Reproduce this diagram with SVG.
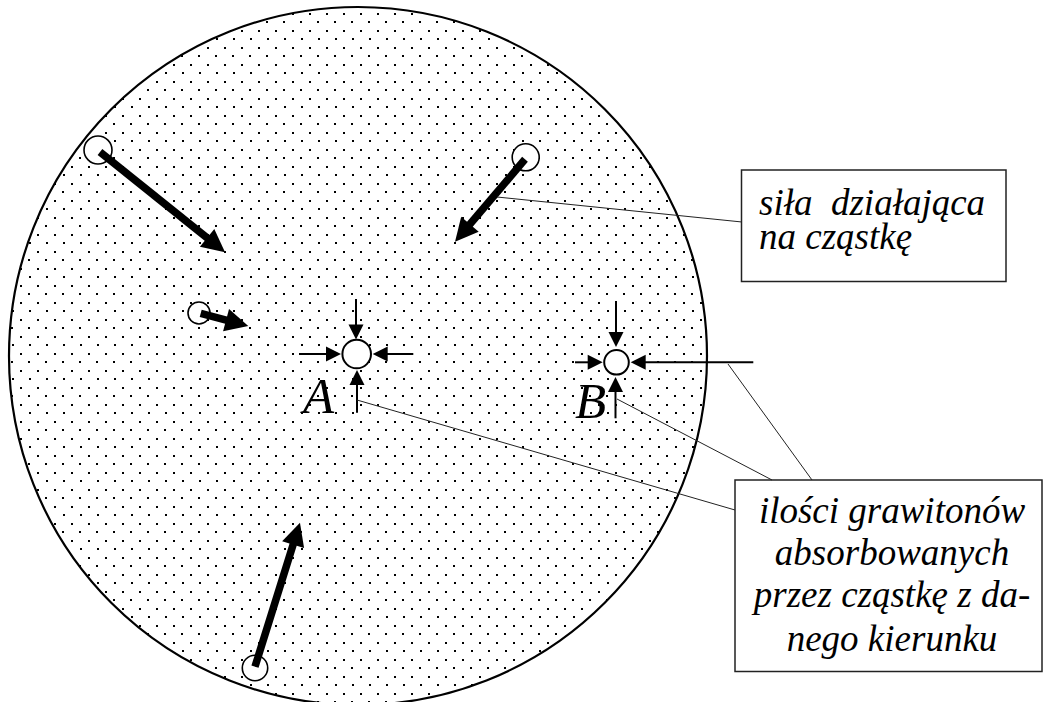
<svg xmlns="http://www.w3.org/2000/svg" width="1043" height="702" viewBox="0 0 1043 702">
<style>
.big{fill:url(#dots);stroke:#000;stroke-width:2.2}
.part{fill:#fff;stroke:#000;stroke-width:1.6}
.pt{fill:#fff;stroke:#000;stroke-width:2}
.force{stroke:#000;stroke-width:7.5;fill:none;marker-end:url(#bighead)}
.grav{stroke:#000;stroke-width:2;fill:none;marker-end:url(#smallhead)}
.lead{stroke:#222;stroke-width:1;fill:none}
.box{fill:#fff;stroke:#222;stroke-width:1.5}
</style>
<defs>
<pattern id="dots" patternUnits="userSpaceOnUse" x="3" y="13" width="34" height="34">
<rect width="34" height="34" fill="#fff"/>
<rect x="0" y="0" width="2" height="2" fill="#000"/>
<rect x="17" y="0" width="2" height="2" fill="#000"/>
<rect x="0" y="17" width="2" height="2" fill="#000"/>
<rect x="17" y="17" width="2" height="2" fill="#000"/>
<rect x="8" y="8" width="2" height="2" fill="#000"/>
<rect x="25" y="8" width="2" height="2" fill="#000"/>
<rect x="9" y="25" width="2" height="2" fill="#000"/>
<rect x="26" y="25" width="2" height="2" fill="#000"/>
</pattern>
<marker id="bighead" markerUnits="userSpaceOnUse" markerWidth="23" markerHeight="23" refX="5" refY="11.5" orient="auto" overflow="visible">
<path d="M0,0 L23,11.5 L0,23 Z" fill="#000"/>
</marker>
<marker id="smallhead" markerUnits="userSpaceOnUse" markerWidth="15" markerHeight="15" refX="3" refY="7.5" orient="auto" overflow="visible">
<path d="M0,0 L15,7.5 L0,15 Z" fill="#000"/>
</marker>
</defs>
<rect width="1043" height="702" fill="#fff"/>
<g id="space"><circle class="big" cx="358" cy="356" r="349"/></g>
<g id="particles">
<circle class="part" cx="98" cy="150" r="14"/>
<circle class="part" cx="525.7" cy="157.3" r="13.5"/>
<circle class="part" cx="199" cy="313" r="11"/>
<circle class="part" cx="255" cy="668" r="12.7"/>
</g>
<g id="nodeA">
<circle class="pt" cx="356.7" cy="354" r="14.3"/>
<text x="303" y="413" font-family="Liberation Serif, serif" font-style="italic" font-size="51">A</text>
</g>
<g id="nodeB">
<circle class="pt" cx="616.5" cy="362.3" r="12.3"/>
<text x="575" y="418" font-family="Liberation Serif, serif" font-style="italic" font-size="51">B</text>
</g>
<g id="box1" font-family="Liberation Serif, serif" font-style="italic" font-size="37">
<rect class="box" x="741.5" y="170" width="264.5" height="111.5"/>
<text x="759" y="215" xml:space="preserve">siła  działająca</text>
<text x="759" y="249">na cząstkę</text>
</g>
<g id="box2" font-family="Liberation Serif, serif" font-style="italic" font-size="37" text-anchor="middle">
<rect class="box" x="735" y="480" width="307" height="191.5"/>
<text x="892" y="523">ilości grawitonów</text>
<text x="892" y="565">absorbowanych</text>
<text x="892" y="607">przez cząstkę z da-</text>
<text x="892" y="651">nego kierunku</text>
</g>
<g id="connectors">
<line class="force" x1="100" y1="152" x2="211" y2="241"/>
<line class="force" x1="525" y1="159.3" x2="466.7" y2="228"/>
<line class="force" x1="200.7" y1="313.3" x2="230.9" y2="321.4"/>
<line class="force" x1="255" y1="666.7" x2="294.6" y2="539.9"/>
<line class="grav" x1="356" y1="299" x2="356" y2="327.5"/>
<line class="grav" x1="299" y1="354" x2="329" y2="354"/>
<line class="grav" x1="413.3" y1="354" x2="384.7" y2="354"/>
<line class="grav" x1="357" y1="412.7" x2="357" y2="382"/>
<line class="grav" x1="616" y1="301" x2="616" y2="335"/>
<line class="grav" x1="575" y1="362.3" x2="590.7" y2="362.3"/>
<line class="grav" x1="753.3" y1="362.3" x2="642.7" y2="362.3"/>
<line class="grav" x1="615.5" y1="418.3" x2="615.5" y2="389"/>
<line class="lead" x1="497" y1="197" x2="742" y2="222"/>
<line class="lead" x1="357" y1="400" x2="735" y2="510"/>
<line class="lead" x1="617" y1="399" x2="772" y2="480"/>
<line class="lead" x1="728" y1="364" x2="812" y2="480"/>
</g>
</svg>
